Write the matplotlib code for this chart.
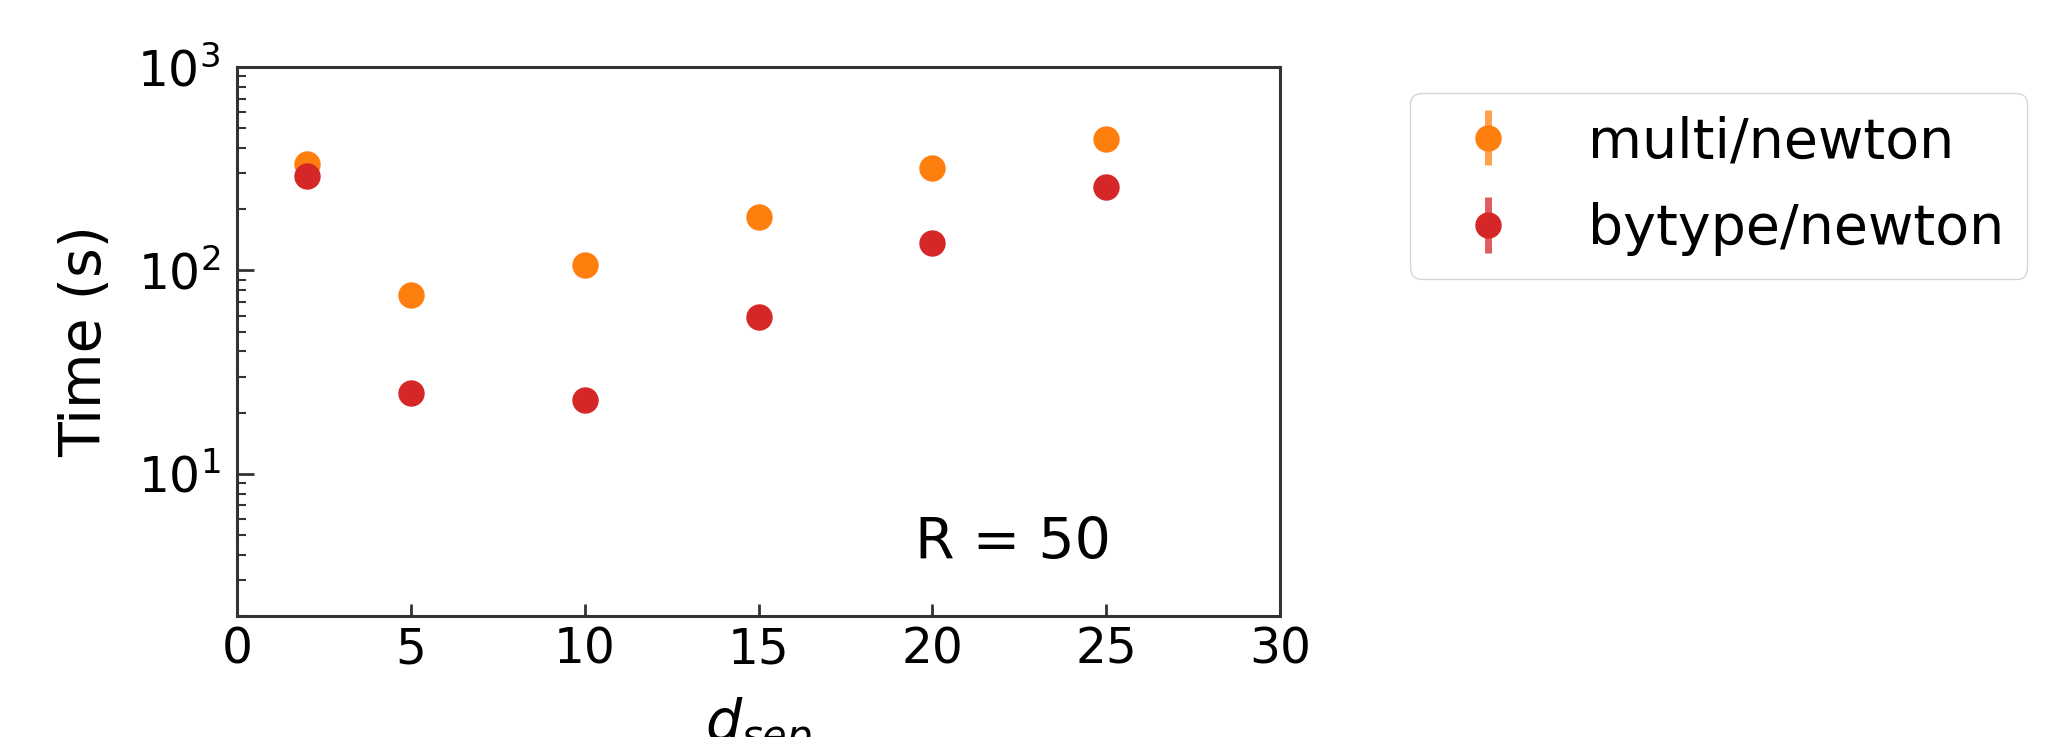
import matplotlib
matplotlib.use("Agg")
import matplotlib.pyplot as plt

# data (log y axis)
d_sep = [2, 5, 10, 15, 20, 25]
multi_newton = [332, 76, 106, 183, 318, 445]
multi_newton_err = [6, 2, 3, 4, 6, 9]
bytype_newton = [291, 25, 23, 59, 136, 257]
bytype_newton_err = [6, 1, 1, 2, 3, 6]
labels = ["multi/newton", "bytype/newton"]

spine_col = "#333333"

fig = plt.figure(figsize=(20.51, 7.37), dpi=100)
ax = fig.add_axes([0.1156, 0.1642, 0.5085, 0.7449])

ax.errorbar(d_sep, multi_newton, yerr=multi_newton_err, fmt="o", color="tab:orange",
            markersize=18, elinewidth=5, ecolor=(1.0, 0.5, 0.05, 0.75), label=labels[0])
ax.errorbar(d_sep, bytype_newton, yerr=bytype_newton_err, fmt="o", color="tab:red",
            markersize=18, elinewidth=5, ecolor=(0.84, 0.15, 0.16, 0.75), label=labels[1])

ax.set_yscale("log")
ax.set_xlim(0, 30)
ax.set_ylim(2, 1000)
ax.set_xticks([0, 5, 10, 15, 20, 25, 30])

for s in ax.spines.values():
    s.set_linewidth(2.2)
    s.set_color(spine_col)

ax.tick_params(axis="x", which="major", direction="in", length=8.5, width=2,
               labelsize=35, pad=7, color=spine_col, top=False)
ax.tick_params(axis="y", which="major", direction="in", length=12, width=2,
               labelsize=35, pad=12, color=spine_col, right=False)
ax.tick_params(axis="y", which="minor", direction="in", length=6.5, width=1.5,
               color=spine_col, right=False)

ax.set_ylabel("Time (s)", fontsize=41)
ax.yaxis.set_label_coords(-0.119, 0.5)
ax.set_xlabel(r"$d_{sep}$", fontsize=41)
ax.xaxis.set_label_coords(0.5, -0.145)

ax.text(0.65, 0.104, "R = 50", transform=ax.transAxes, fontsize=41, va="baseline")

ax.legend(loc="upper left", bbox_to_anchor=(1.125, 0.953), borderaxespad=0,
          fontsize=40, labelspacing=0.6, borderpad=0.4, frameon=True)

fig.savefig("out.png", dpi=100)
